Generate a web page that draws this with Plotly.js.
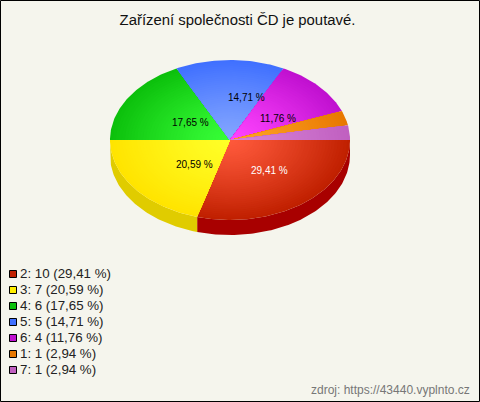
<!DOCTYPE html>
<html><head><meta charset="utf-8">
<script src="https://cdn.plot.ly/plotly-3.0.1.min.js"></script>
<style>html,body{margin:0;padding:0;background:#f5f5ed}#c{width:480px;height:402px}</style>
</head><body><div id="c"></div>
<script>
const categories = ["2","3","4","5","6","1","7"];
const counts = [10,7,6,5,4,1,1];
const percentLabels = ["29,41 %","20,59 %","17,65 %","14,71 %","11,76 %","2,94 %","2,94 %"];
const innerColors = ["#ff5a3c","#ffff28","#38ff38","#84a6ff","#ff44ff","#ffa428","#d884d8"];
const outerColors = ["#c02000","#ffe400","#0cc00c","#4070ff","#c010d0","#e87800","#c060c0"];
const wallColors  = ["#a80000","#e0cc00","#0a9a0a","#3058cc","#9a0ca8","#b86000","#9a4c9a"];
const legendColors= ["#c02000","#ffee00","#0cc00c","#4070ff","#c010d0","#e87800","#c060c0"];
const labelColors = ["#ffffff","#000000","#000000","#000000","#000000"];
const labelDx = [3,12,12,16,4];
const labelDy = [-1,0,4,-3,5];

const cx=230, cy=140, rx=120, ry=80, depth=15, steps=40;
const total = counts.reduce((a,b)=>a+b,0);
const rad = d=>d*Math.PI/180;
const hex = c=>[1,3,5].map(i=>parseInt(c.substr(i,2),16));
const mix = (a,b,t)=>{const A=hex(a),B=hex(b);return `rgb(${A.map((v,i)=>Math.round(v+(B[i]-v)*t)).join(",")})`;};
const arcPts = (a0,a1,f)=>{const xs=[],ys=[];const n=Math.max(2,Math.ceil((a1-a0)));
  for(let i=0;i<=n;i++){const a=rad(a0+(a1-a0)*i/n);xs.push(cx+rx*f*Math.cos(a));ys.push(cy+ry*f*Math.sin(a));}return [xs,ys];};

const traces=[], annotations=[];
const poly=(x,y,color)=>traces.push({type:"scatter",mode:"lines",x,y,fill:"toself",fillcolor:color,
  line:{width:0,color:color},hoverinfo:"skip",showlegend:false});

let start=0; const spans=counts.map(c=>{const s=[start,start+c/total*360];start=s[1];return s;});

// side wall
spans.forEach(([a0,a1],i)=>{
  const b1=Math.min(a1,180); if(a0>=180) return;
  const [xs,ys]=arcPts(a0,b1,1);
  poly(xs.concat(xs.slice().reverse()), ys.concat(ys.slice().reverse().map(v=>v+depth)), wallColors[i]);
});
// top faces: nested wedges give a radial shading about the pie centre
spans.forEach(([a0,a1],i)=>{
  for(let s=steps;s>=1;s--){
    const f=s/steps;
    const [xs,ys]=arcPts(a0,a1,f);
    poly([cx].concat(xs,[cx]),[cy].concat(ys,[cy]),mix(innerColors[i],outerColors[i],Math.pow(f,1.2)));
  }
});
// value labels
spans.slice(0,5).forEach(([a0,a1],i)=>{
  const m=rad((a0+a1)/2);
  annotations.push({x:cx+rx*.5*Math.cos(m),y:cy+ry*.5*Math.sin(m),xref:"x",yref:"y",showarrow:false,
    text:percentLabels[i],xshift:labelDx[i],yshift:-labelDy[i],
    font:{family:"Liberation Sans, Arial, sans-serif",size:10,color:labelColors[i]}});
});
// legend
const legendX=13, legendY0=274, legendStep=16;
traces.push({type:"scatter",mode:"markers",x:categories.map(()=>legendX),y:categories.map((_,i)=>legendY0+i*legendStep),
  marker:{symbol:"square",size:7,color:legendColors,line:{color:"#000",width:1}},hoverinfo:"skip",showlegend:false});
categories.forEach((c,i)=>annotations.push({x:20,y:legendY0+i*legendStep,xref:"x",yref:"y",xanchor:"left",showarrow:false,xshift:-2,yshift:1,
  text:`${c}: ${counts[i]} (${percentLabels[i]})`,font:{family:"Liberation Sans, Arial, sans-serif",size:13.3,color:"#222"}}));
annotations.push({x:470,y:390,xref:"x",yref:"y",xanchor:"right",showarrow:false,xshift:2,
  text:"zdroj: https://43440.vyplnto.cz",font:{family:"Liberation Sans, Arial, sans-serif",size:12,color:"#777"}});

Plotly.newPlot("c",traces,{
  width:480,height:402,margin:{l:0,r:0,t:0,b:0},
  paper_bgcolor:"#f5f5ed",plot_bgcolor:"#f5f5ed",showlegend:false,
  title:{text:"Zařízení společnosti ČD je poutavé.",x:0.4948,xanchor:"center",y:0.951,yanchor:"middle",
    font:{family:"Liberation Sans, Arial, sans-serif",size:14.9,color:"#111"}},
  xaxis:{range:[0,480],visible:false,fixedrange:true},
  yaxis:{range:[402,0],visible:false,fixedrange:true},
  annotations,
  shapes:[{type:"rect",xref:"x",yref:"y",x0:0.5,x1:479.5,y0:0.5,y1:401.5,line:{color:"#000",width:1},fillcolor:"rgba(0,0,0,0)"}]
},{displayModeBar:false,staticPlot:true});
</script></body></html>
